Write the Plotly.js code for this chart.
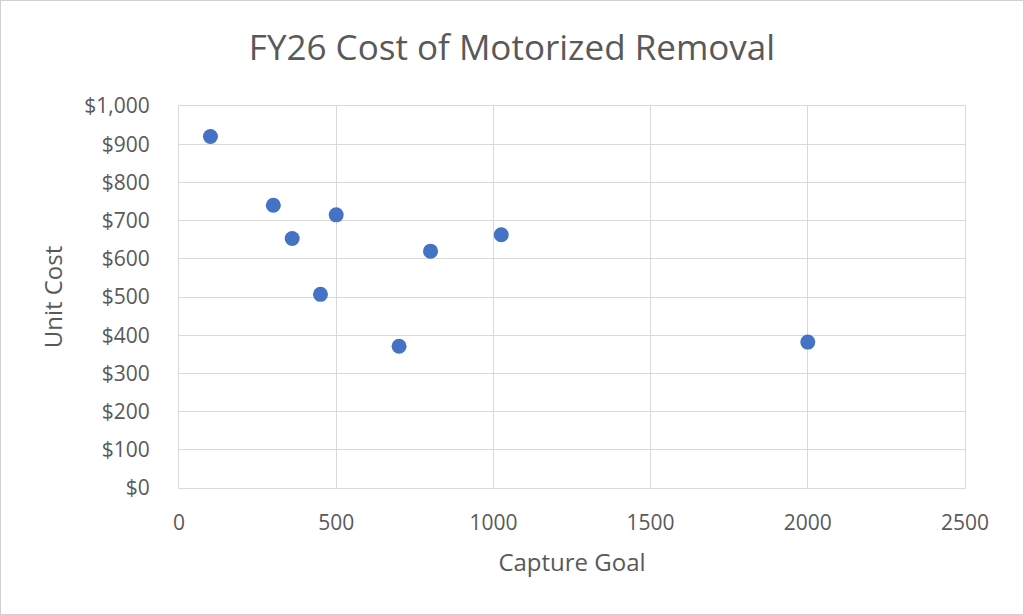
<!DOCTYPE html>
<html>
<head>
<meta charset="utf-8">
<script src="https://cdn.plot.ly/plotly-3.0.1.min.js"></script>
<style>
html,body{margin:0;padding:0;background:#fff;}
#chart{width:1024px;height:615px;box-sizing:border-box;border:1px solid #d0d0d0;}
</style>
</head>
<body>
<div id="chart"></div>
<script>
var captureGoal = [100, 300, 360, 450, 500, 700, 800, 1025, 2000];
var unitCost = [920, 740, 653, 507, 715, 371, 620, 663, 382];
var yTickVals = [0, 100, 200, 300, 400, 500, 600, 700, 800, 900, 1000];
var yTickText = ['$0', '$100', '$200', '$300', '$400', '$500', '$600', '$700', '$800', '$900', '$1,000'];
var xTickVals = [0, 500, 1000, 1500, 2000, 2500];
var xTickText = ['0', '500', '1000', '1500', '2000', '2500'];

var fontFam = '"Open Sans", "Liberation Sans", sans-serif';
var textColor = '#595959';
var gridColor = '#d9d9d9';

var trace = {
  x: captureGoal,
  y: unitCost,
  type: 'scatter',
  mode: 'markers',
  marker: {color: '#4472C4', size: 15},
  hoverinfo: 'x+y'
};

var layout = {
  width: 1022,
  height: 613,
  margin: {l: 178, r: 58, t: 105, b: 126},
  paper_bgcolor: '#ffffff',
  plot_bgcolor: '#ffffff',
  showlegend: false,
  font: {family: fontFam, color: textColor},
  title: {
    text: 'FY26 Cost of Motorized Removal',
    font: {family: fontFam, size: 35, color: textColor},
    x: 0.5, xanchor: 'center',
    y: 1 - 47/613, yanchor: 'middle'
  },
  xaxis: {
    range: [0, 2500],
    tickvals: xTickVals,
    ticktext: xTickText,
    showgrid: true,
    gridcolor: gridColor,
    gridwidth: 1,
    zeroline: false,
    showline: true,
    linecolor: gridColor,
    linewidth: 1,
    mirror: true,
    ticks: 'outside',
    ticklen: 16,
    tickcolor: 'rgba(0,0,0,0)',
    tickfont: {family: fontFam, size: 21, color: textColor},
    fixedrange: true,
    title: {
      text: 'Capture Goal',
      font: {family: fontFam, size: 24, color: textColor},
      standoff: 18
    }
  },
  yaxis: {
    range: [0, 1000],
    tickvals: yTickVals,
    ticktext: yTickText,
    showgrid: true,
    gridcolor: gridColor,
    gridwidth: 1,
    zeroline: false,
    showline: true,
    linecolor: gridColor,
    linewidth: 1,
    mirror: true,
    ticks: 'outside',
    ticklen: 24,
    tickcolor: 'rgba(0,0,0,0)',
    tickfont: {family: fontFam, size: 21, color: textColor},
    fixedrange: true,
    title: {
      text: 'Unit Cost',
      font: {family: fontFam, size: 24, color: textColor},
      standoff: 14
    }
  }
};

Plotly.newPlot('chart', [trace], layout, {displayModeBar: false, staticPlot: true});
</script>
</body>
</html>
